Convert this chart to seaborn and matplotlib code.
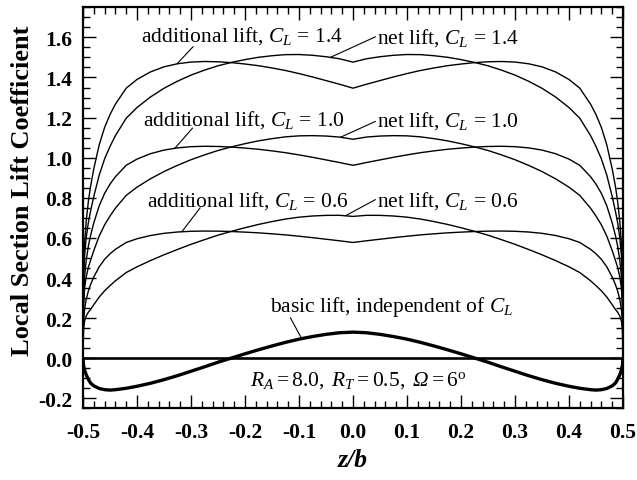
import numpy as np
import pandas as pd
import matplotlib
matplotlib.use("Agg")
import matplotlib.pyplot as plt
from matplotlib.ticker import MultipleLocator
import seaborn as sns

# Half-span stations (z/b >= 0); distributions are symmetric about the root
span_half = [0.000, 0.025, 0.050, 0.075, 0.100, 0.125, 0.150, 0.175, 0.200,
             0.225, 0.250, 0.275, 0.300, 0.325, 0.350, 0.375, 0.400, 0.420,
             0.440, 0.450, 0.460, 0.470, 0.480, 0.486, 0.490, 0.494, 0.497,
             0.499, 0.500]

# Additional lift per unit wing lift coefficient (C_L = 1)
additional_unit_half = [0.962, 0.976, 0.989, 1.002, 1.014, 1.025, 1.034, 1.042,
                        1.048, 1.053, 1.056, 1.057, 1.055, 1.049, 1.038, 1.020,
                        0.993, 0.962, 0.905, 0.868, 0.822, 0.760, 0.675, 0.612,
                        0.560, 0.490, 0.410, 0.300, 0.000]

# Basic (twist) lift, independent of C_L
basic_half = [0.130, 0.127, 0.119, 0.108, 0.095, 0.079, 0.061, 0.042, 0.022,
              0.001, -0.020, -0.043, -0.065, -0.087, -0.107, -0.125, -0.140,
              -0.150, -0.157, -0.159, -0.157, -0.151, -0.138, -0.124, -0.106,
              -0.083, -0.060, -0.035, 0.000]

lift_coefficients = [0.6, 1.0, 1.4]

x_ticks = [-0.5, -0.4, -0.3, -0.2, -0.1, 0.0, 0.1, 0.2, 0.3, 0.4, 0.5]
y_ticks = [-0.2, 0.0, 0.2, 0.4, 0.6, 0.8, 1.0, 1.2, 1.4, 1.6]


def full_span(values):
    v = np.asarray(values, dtype=float)
    return np.concatenate([v[::-1], v[1:]])


z = np.concatenate([-np.asarray(span_half)[::-1], np.asarray(span_half)[1:]])
additional_unit = full_span(additional_unit_half)
basic = full_span(basic_half)

rows = []
for cl in lift_coefficients:
    add = cl * additional_unit
    net = add + basic
    for zi, a, n in zip(z, add, net):
        rows.append(dict(z=zi, cl=cl, kind="additional", value=a))
        rows.append(dict(z=zi, cl=cl, kind="net", value=n))
curves = pd.DataFrame(rows)
basic_df = pd.DataFrame(dict(z=z, value=basic))

sns.set_theme(style="ticks")
plt.rcParams["font.family"] = ["Liberation Serif", "DejaVu Serif"]
plt.rcParams["mathtext.fontset"] = "custom"
plt.rcParams["mathtext.rm"] = "Liberation Serif"
plt.rcParams["mathtext.it"] = "Liberation Serif:italic"
plt.rcParams["mathtext.bf"] = "Liberation Serif:bold"
plt.rcParams["mathtext.sf"] = "Liberation Serif:italic"
plt.rcParams["axes.unicode_minus"] = False
for key in ("text.color", "axes.labelcolor", "xtick.color", "ytick.color",
            "axes.edgecolor"):
    plt.rcParams[key] = "black"

fig = plt.figure(figsize=(6.37, 4.81), dpi=100)
ax = fig.add_axes([0.1303, 0.149, 0.8477, 0.8337])

for (cl, kind), g in curves.groupby(["cl", "kind"]):
    sns.lineplot(data=g, x="z", y="value", ax=ax, color="black", lw=1.0,
                 sort=False, estimator=None, legend=False)

sns.lineplot(data=basic_df, x="z", y="value", ax=ax, color="black", lw=2.4,
             sort=False, estimator=None, legend=False)
ax.axhline(0.0, color="black", lw=1.9, zorder=1)

ax.set_xlim(-0.5, 0.5)
ax.set_ylim(-0.25, 1.75)
ax.set_xticks(x_ticks)
ax.set_yticks(y_ticks)
ax.set_xticklabels([f"{t:.1f}" for t in x_ticks])
ax.set_yticklabels([f"{t:.1f}" for t in y_ticks])
ax.xaxis.set_minor_locator(MultipleLocator(0.02))
ax.yaxis.set_minor_locator(MultipleLocator(0.05))
ax.tick_params(which="both", direction="in", top=True, right=True,
               color="black", width=1.0)
ax.tick_params(axis="x", which="major", length=9.5, pad=10)
ax.tick_params(axis="y", which="major", length=9.5, pad=8)
ax.tick_params(which="minor", length=4.7)
for lab in ax.get_xticklabels() + ax.get_yticklabels():
    lab.set_fontweight("bold")
    lab.set_fontsize(15.5)
    lab.set_color("black")
for sp in ax.spines.values():
    sp.set_linewidth(1.6)
    sp.set_color("black")

ax.set_xlabel("z/b", fontsize=18.5, fontweight="bold", fontstyle="italic",
              labelpad=4)
ax.set_ylabel("Local Section Lift Coefficient", fontsize=19,
              fontweight="bold")
ax.yaxis.set_label_coords(-0.09, 0.544)

label_fs = 15.5


def curve_value(cl, kind, x):
    g = curves[(curves.cl == cl) & (curves.kind == kind)]
    return np.interp(x, g.z.values, g.value.values)


labels = [
    ("additional lift, $C_L$ = 1.4", (-0.393, 1.612), (-0.296, 1.554), (1.4, "additional", -0.326)),
    ("net lift, $C_L$ = 1.4", (0.045, 1.603), (0.0416, 1.603), (1.4, "net", -0.042)),
    ("additional lift, $C_L$ = 1.0", (-0.388, 1.194), (-0.297, 1.148), (1.0, "additional", -0.330)),
    ("net lift, $C_L$ = 1.0", (0.045, 1.189), (0.0416, 1.181), (1.0, "net", -0.023)),
    ("additional lift, $C_L$ = 0.6", (-0.382, 0.791), (-0.283, 0.750), (0.6, "additional", -0.317)),
    ("net lift, $C_L$ = 0.6", (0.045, 0.791), (0.0416, 0.791), (0.6, "net", -0.014)),
]
for text, pos, start, (cl, kind, xc) in labels:
    ax.text(pos[0], pos[1], text, fontsize=label_fs, ha="left", va="center")
    ax.annotate("", xy=(xc, curve_value(cl, kind, xc)), xytext=start,
                arrowprops=dict(arrowstyle="-", lw=0.8, color="black",
                                shrinkA=0, shrinkB=0))

ax.text(-0.154, 0.26, "basic lift, independent of $C_L$", fontsize=label_fs,
        ha="left", va="center")
xb = -0.095
ax.annotate("", xy=(xb, np.interp(xb, z, basic)), xytext=(-0.116, 0.202),
            arrowprops=dict(arrowstyle="-", lw=0.8, color="black",
                            shrinkA=0, shrinkB=0))

ax.text(-0.191, -0.104,
        r"$R_A = \mathrm{8.0,}\ R_T = \mathrm{0.5,}\ \mathsf{\Omega} = 6^{\mathrm{o}}$",
        fontsize=label_fs, ha="left", va="center")

fig.savefig("out.png", dpi=100)
